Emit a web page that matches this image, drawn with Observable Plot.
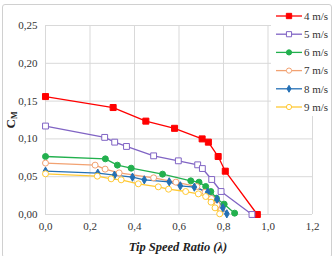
<!DOCTYPE html>
<html><head><meta charset="utf-8">
<script src="https://cdn.jsdelivr.net/npm/d3@7"></script>
<script src="https://cdn.jsdelivr.net/npm/@observablehq/plot@0.6"></script>
<style>
body{margin:0;background:#fff;}
#wrap{position:relative;width:334px;height:256px;overflow:hidden;font-family:"Liberation Serif","Times New Roman",serif;color:#333;}
#frame{position:absolute;left:2px;top:4px;width:330px;height:254px;border:1px solid #d0d0d0;border-radius:3px;box-sizing:border-box;pointer-events:none;}
#chart{position:absolute;left:0;top:0;}
#legend{position:absolute;left:271px;top:5px;width:60px;height:111px;background:#fff;}
#ytitle{position:absolute;left:11px;top:120px;transform:translate(-50%,-50%) rotate(-90deg);font-weight:bold;font-size:13px;white-space:nowrap;color:#222;}
#ytitle sub{font-size:8px;vertical-align:-2px;}
#xtitle{position:absolute;left:178px;top:247px;transform:translate(-50%,-50%);font-weight:bold;font-style:italic;font-size:12.5px;white-space:nowrap;color:#222;}
</style></head>
<body>
<div id="wrap">
  <div id="chart"></div>
  <div id="legend"></div>
  <div id="ytitle">C<sub>M</sub></div>
  <div id="xtitle">Tip Speed Ratio (λ)</div>
  <div id="frame"></div>
</div>
<script>
// Data
const seriesNames = ["4 m/s", "5 m/s", "6 m/s", "7 m/s", "8 m/s", "9 m/s"];
const tsr4 = [0, 0.304, 0.451, 0.580, 0.704, 0.732, 0.776, 0.808, 0.952];
const cm4  = [0.156, 0.1415, 0.1235, 0.114, 0.100, 0.0957, 0.0767, 0.0573, 0.000];
const tsr5 = [0, 0.266, 0.311, 0.364, 0.486, 0.597, 0.684, 0.705, 0.747, 0.789, 0.928];
const cm5  = [0.117, 0.102, 0.0957, 0.090, 0.0776, 0.071, 0.0657, 0.0608, 0.0463, 0.0304, 0.000];
const tsr6 = [0, 0.269, 0.323, 0.385, 0.526, 0.653, 0.690, 0.720, 0.743, 0.768, 0.803, 0.850];
const cm6  = [0.0767, 0.0736, 0.0653, 0.0613, 0.0534, 0.0445, 0.0428, 0.037, 0.0304, 0.0216, 0.0137, 0.0018];
const tsr7 = [0, 0.223, 0.268, 0.331, 0.486, 0.586, 0.680, 0.717, 0.746, 0.771, 0.791];
const cm7  = [0.068, 0.0653, 0.060, 0.055, 0.0485, 0.0428, 0.037, 0.0295, 0.0212, 0.0128, 0.0066];
const tsr8 = [0, 0.235, 0.310, 0.391, 0.444, 0.556, 0.606, 0.669, 0.729, 0.771, 0.797, 0.815];
const cm8  = [0.0573, 0.0547, 0.052, 0.0494, 0.0459, 0.0432, 0.0379, 0.0362, 0.0295, 0.0203, 0.0088, 0.0009];
const tsr9 = [0, 0.233, 0.295, 0.340, 0.417, 0.507, 0.553, 0.630, 0.687, 0.720, 0.744, 0.762, 0.783];
const cm9  = [0.0538, 0.0507, 0.0472, 0.0459, 0.0406, 0.0366, 0.0335, 0.0304, 0.0273, 0.0238, 0.0163, 0.0088, 0.0009];
const xTicks = [0, 0.2, 0.4, 0.6, 0.8, 1.0, 1.2];
const yTicks = [0, 0.05, 0.10, 0.15, 0.20, 0.25];

const colors  = ["#FF0000", "#8064C4", "#22B04E", "#F2A272", "#2470B5", "#FFC933"];
const symbols = ["square", "square", "circle", "circle", "diamond", "circle"];
const filled  = [true, false, true, false, true, false];
const sizes   = [3.4, 3.3, 3.0, 3.0, 2.5, 3.0];

const xs = [tsr4, tsr5, tsr6, tsr7, tsr8, tsr9];
const ys = [cm4, cm5, cm6, cm7, cm8, cm9];
const rows = xs.map((xa, k) => xa.map((x, i) => ({series: seriesNames[k], x, y: ys[k][i]})));

const comma = (d, n) => d.toFixed(n).replace(".", ",");

const marks = [
  Plot.ruleX(xTicks, {stroke: "#d9d9d9", strokeWidth: 1}),
  Plot.ruleY(yTicks, {stroke: "#d9d9d9", strokeWidth: 1}),
];
rows.forEach((r, k) => {
  marks.push(Plot.line(r, {x: "x", y: "y", stroke: colors[k], strokeWidth: 1.3}));
});
rows.forEach((r, k) => {
  marks.push(Plot.dot(r, {x: "x", y: "y", symbol: () => symbols[k], r: sizes[k],
    fill: filled[k] ? colors[k] : "white", stroke: colors[k], strokeWidth: 1}));
});

const chart = Plot.plot({
  width: 334, height: 256,
  marginLeft: 45, marginRight: 22, marginTop: 25, marginBottom: 42,
  style: {fontFamily: '"Liberation Serif","Times New Roman",serif', fontSize: "11px", color: "#333", background: "transparent", overflow: "visible"},
  x: {domain: [0, 1.2], ticks: xTicks, tickFormat: d => comma(d, 1), tickSize: 0, tickPadding: 8, label: null},
  y: {domain: [0, 0.25], ticks: yTicks, tickFormat: d => comma(d, 2), tickSize: 0, tickPadding: 8, label: null},
  symbol: {domain: ["square", "circle", "diamond"], range: ["square", "circle", "diamond"]},
  marks
});
document.getElementById("chart").appendChild(chart);

// Legend
const symMap = {square: d3.symbolSquare, circle: d3.symbolCircle, diamond: d3.symbolDiamond};
const lg = d3.select("#legend").append("svg").attr("width", 60).attr("height", 111);
seriesNames.forEach((name, k) => {
  const cy = 11 + k * 18.2;
  const g = lg.append("g").attr("transform", `translate(0,${cy})`);
  g.append("line").attr("x1", 5).attr("x2", 31).attr("stroke", colors[k]).attr("stroke-width", 1.3);
  g.append("path").attr("transform", "translate(18,0)")
    .attr("d", d3.symbol(symMap[symbols[k]], Math.PI * (sizes[k] - 0.4) ** 2)())
    .attr("fill", filled[k] ? colors[k] : "white").attr("stroke", colors[k]).attr("stroke-width", 1);
  g.append("text").attr("x", 33).attr("dy", "0.35em").attr("font-size", 11)
    .attr("font-family", '"Liberation Serif","Times New Roman",serif').attr("fill", "#333").text(name);
});
</script>
</body></html>
